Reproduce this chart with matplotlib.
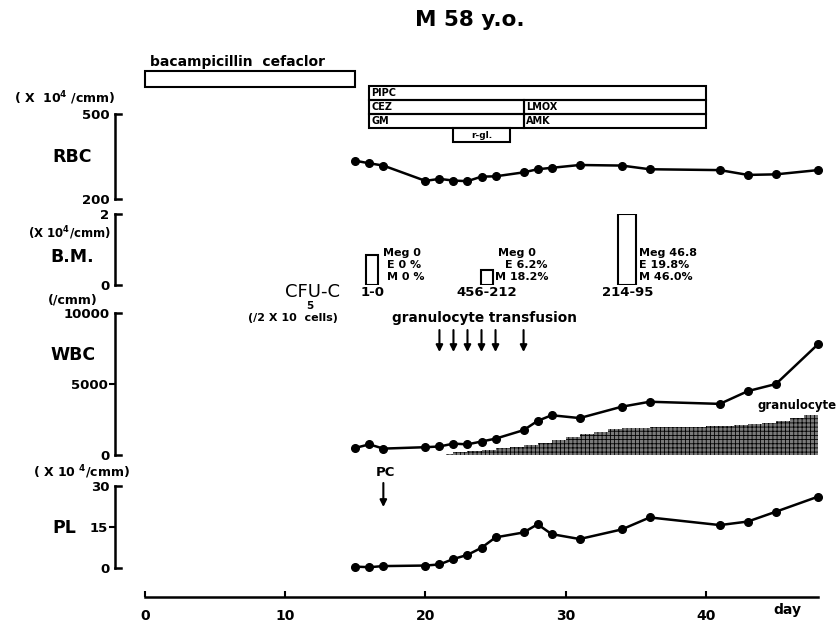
import matplotlib
matplotlib.use('Agg')
import matplotlib.pyplot as plt
from matplotlib.patches import Rectangle
from matplotlib.transforms import blended_transform_factory

plt.rcParams['font.family'] = 'DejaVu Sans'
plt.rcParams['font.weight'] = 'bold'
plt.rcParams['mathtext.default'] = 'bf'
plt.rcParams['hatch.linewidth'] = 0.6

# sampling days shared by RBC, WBC and PL
days = [15, 16, 17, 20, 21, 22, 23, 24, 25, 27, 28, 29, 31, 34, 36, 41, 43, 45, 48]
rbc = [335, 326, 318, 264, 271, 265, 263, 279, 280, 294, 305, 310, 320, 318, 305, 302, 285, 287, 302]
wbc = [500, 750, 450, 550, 600, 800, 750, 950, 1150, 1750, 2400, 2800, 2600, 3400, 3750, 3600, 4500, 5000, 7800]
pl = [0.5, 0.3, 0.7, 0.9, 1.3, 3.3, 4.8, 7.4, 11.2, 13.0, 16.0, 12.4, 10.6, 14.1, 18.5, 15.7, 17.0, 20.6, 26.1]

# granulocyte part of WBC (shaded)
gran_days = [21.5, 22, 23, 24, 25, 26, 27, 28, 29, 30, 31, 32, 33, 34, 36, 38, 40, 42, 43, 44, 45, 46, 47, 48]
gran = [60, 180, 280, 380, 470, 560, 700, 850, 1050, 1250, 1450, 1650, 1850, 1920, 1960, 2000,
        2050, 2100, 2150, 2250, 2400, 2600, 2800, 2850]

# bone marrow
bm_days = [16.2, 24.4, 34.4]
bm = [0.85, 0.42, 2.0]
cfu_c = ['1-0', '456-212', '214-95']
bm_diff = [['Meg 0', 'E 0 %', 'M 0 %'],
           ['Meg 0', 'E 6.2%', 'M 18.2%'],
           ['Meg 46.8', 'E 19.8%', 'M 46.0%']]

transfusion_days = [21, 22, 23, 24, 25, 27]
pc_days = [17]

drugs = ['bacampicillin  cefaclor', 'PIPC', 'CEZ', 'GM', 'LMOX', 'AMK', 'r-gl.']
drug_start = [0, 16, 16, 16, 27, 27, 22]
drug_end = [15, 40, 27, 27, 40, 40, 26]
drug_lane = [0, 1, 2, 3, 2, 3, 4]

day_ticks = [0, 10, 20, 30, 40]

# ---- layout (pixels of the 840x625 picture) ----
W, H = 840, 625
LEFT, DAY0, RIGHT = 115, 145, 818
XMAX = 48
XMIN = -(DAY0 - LEFT) * XMAX / (RIGHT - DAY0)

fig = plt.figure(figsize=(W / 100, H / 100), dpi=100)


def ftext(x, y, s, **kw):
    kw.setdefault('va', 'center')
    fig.text(x / W, 1 - y / H, s, **kw)


def panel(top, bottom):
    ax = fig.add_axes([LEFT / W, 1 - bottom / H, (RIGHT - LEFT) / W, (bottom - top) / H])
    ax.set_xlim(XMIN, XMAX)
    ax.patch.set_visible(False)
    for s in ['top', 'right', 'bottom']:
        ax.spines[s].set_visible(False)
    ax.set_xticks([])
    return ax


def bracket(ax, lo, hi, mid=None):
    ax.set_ylim(lo, hi)
    ax.spines['left'].set_linewidth(1.8)
    if mid is not None:
        ax.set_yticks([mid], labels=[str(mid)])
        ax.tick_params(axis='y', which='major', length=4, width=1.5, pad=1, labelsize=9.5)
    else:
        ax.set_yticks([])
    ax.set_yticks([lo, hi], labels=[str(lo), str(hi)], minor=True)
    ax.tick_params(axis='y', which='minor', length=0, pad=4, labelsize=9.5)
    tr = blended_transform_factory(ax.transAxes, ax.transData)
    for v in (lo, hi):
        ax.plot([0, 0.008], [v, v], transform=tr, color='k', lw=1.8, clip_on=False)


line_kw = dict(color='k', lw=1.8, marker='o', ms=5.5, clip_on=False, zorder=3)

# ---- drugs ----
ax_d = panel(50, 145)
ax_d.set_ylim(145, 50)
ax_d.spines['left'].set_visible(False)
ax_d.set_yticks([])
lane_top = [71, 86, 100, 114, 128]
lane_h = [16, 14, 14, 14, 14]
for name, s, e, ln in zip(drugs, drug_start, drug_end, drug_lane):
    ax_d.add_patch(Rectangle((s, lane_top[ln]), e - s, lane_h[ln], fill=False,
                             lw=1.5, ec='k', clip_on=False))
    if ln == 0:
        ax_d.text(s + 0.35, 62, name, ha='left', va='center', fontsize=10)
    elif ln == 4:
        ax_d.text((s + e) / 2, lane_top[ln] + lane_h[ln] / 2, name, ha='center',
                  va='center', fontsize=6.5)
    else:
        ax_d.text(s + 0.15, lane_top[ln] + lane_h[ln] / 2, name, ha='left',
                  va='center', fontsize=7)

# ---- RBC ----
ax_rbc = panel(114, 199)
bracket(ax_rbc, 200, 500)
ax_rbc.plot(days, rbc, **line_kw)

# ---- bone marrow ----
ax_bm = panel(214, 285)
bracket(ax_bm, 0, 2)
ax_bm.bar(bm_days, bm, width=[0.85, 0.85, 1.3], facecolor='white', edgecolor='k', lw=1.5)
for d, lab in zip(bm_days, cfu_c):
    ax_bm.text(d, -0.2, lab, ha='center', va='center', fontsize=9.5, clip_on=False)
block_x = [[383, 387, 387], [498, 505, 495], [639, 639, 639]]
for xs, lines in zip(block_x, bm_diff):
    for x, y, s in zip(xs, [253, 265, 277], lines):
        ftext(x, y, s, ha='left', fontsize=8)

# ---- WBC ----
ax_wbc = panel(313, 455)
bracket(ax_wbc, 0, 10000, 5000)
ax_wbc.fill_between(gran_days, gran, step='post', facecolor='#7a7a7a', edgecolor='k',
                    hatch='++++', lw=0, zorder=1)
ax_wbc.plot(days, wbc, **line_kw)
for d in transfusion_days:
    ax_wbc.annotate('', xy=(d, 7250), xytext=(d, 8800), annotation_clip=False,
                    arrowprops=dict(arrowstyle='-|>', color='k', lw=1.5,
                                    mutation_scale=10, shrinkA=0, shrinkB=0))

# ---- PL ----
ax_pl = panel(486, 568)
bracket(ax_pl, 0, 30, 15)
ax_pl.plot(days, pl, **line_kw)
for d in pc_days:
    ax_pl.annotate('', xy=(d, 22.3), xytext=(d, 31.1), annotation_clip=False,
                   arrowprops=dict(arrowstyle='-|>', color='k', lw=1.5,
                                   mutation_scale=10, shrinkA=0, shrinkB=0))
ax_pl.spines['bottom'].set_visible(True)
ax_pl.spines['bottom'].set_linewidth(1.8)
ax_pl.spines['bottom'].set_position(('outward', 29 * 0.72))
ax_pl.spines['bottom'].set_bounds(0, XMAX)
ax_pl.set_xticks(day_ticks)
ax_pl.tick_params(axis='x', direction='in', length=4, width=1.5, pad=9, labelsize=10)

# ---- texts ----
ftext(470, 20, 'M 58 y.o.', ha='center', fontsize=15.5)
ftext(115, 98, '( X  10$^4$ /cmm)', ha='right', fontsize=9)
ftext(52, 157, 'RBC', ha='left', fontsize=12.5)
ftext(111, 233, '(X 10$^4$/cmm)', ha='right', fontsize=8.5)
ftext(50, 257, 'B.M.', ha='left', fontsize=12.5)
ftext(98, 300, '(/cmm)', ha='right', fontsize=9)
ftext(50, 355, 'WBC', ha='left', fontsize=12.5)
ftext(130, 472, '( X 10 $^4$/cmm)', ha='right', fontsize=9)
ftext(52, 528, 'PL', ha='left', fontsize=12.5)

ftext(285, 292, 'CFU-C', ha='left', fontsize=13, fontweight='normal')
ftext(306, 306, '5', ha='left', fontsize=7.5)
ftext(248, 318, '(/2 X 10  cells)', ha='left', fontsize=8)
ftext(392, 318, 'granulocyte transfusion', ha='left', fontsize=9.8)
ftext(385, 472, 'PC', ha='center', fontsize=9.5)
ftext(757, 405, 'granulocyte', ha='left', fontsize=8.5)
ftext(787, 610, 'day', ha='center', fontsize=10)

fig.savefig('out.png', dpi=100)
